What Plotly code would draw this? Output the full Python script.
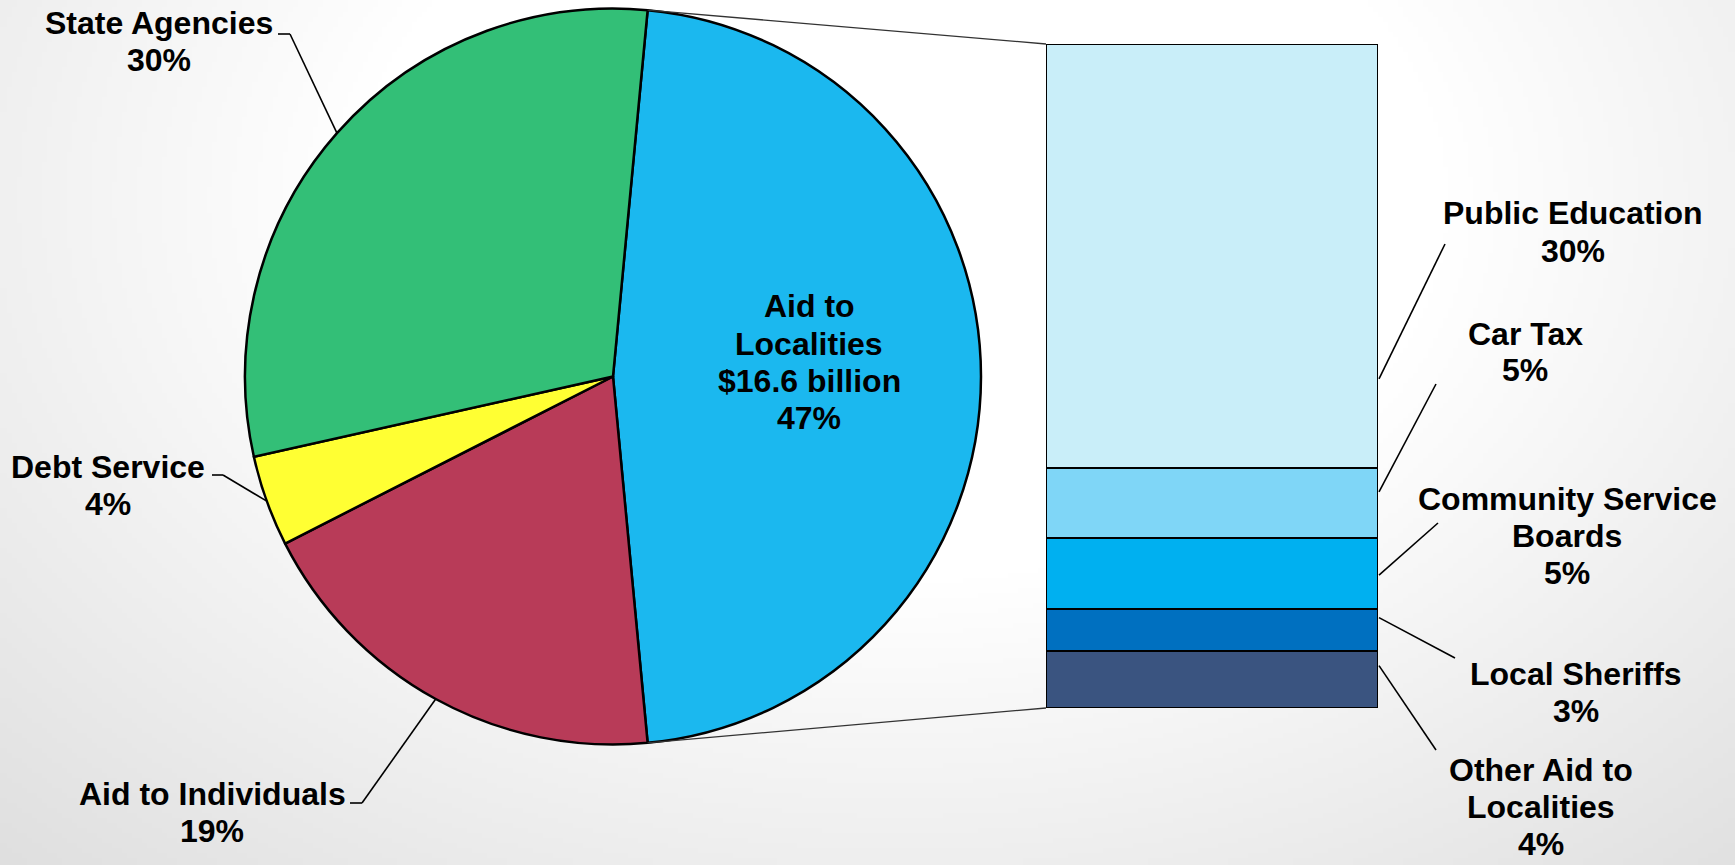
import base64
import math
import struct
import zlib

import numpy as np
import plotly.graph_objects as go

W, H = 1735, 865

# Top-level spending split (clockwise from the Aid to Localities slice)
pie_labels = ["Aid to Localities", "Aid to Individuals", "Debt Service", "State Agencies"]
pie_values = [47, 19, 4, 30]
pie_colors = ["#1BB8EF", "#B83B58", "#FFFF33", "#33BF77"]
localities_amount = "$16.6 billion"

# Breakdown of Aid to Localities, stacked bottom to top
loc_labels = ["Other Aid to<br>Localities", "Local Sheriffs", "Community Service<br>Boards",
              "Car Tax", "Public Education"]
loc_values = [4, 3, 5, 5, 30]
loc_colors = ["#3A5480", "#0070C0", "#00B0F0", "#7FD6F7", "#C9EEF9"]

FONT = "Liberation Sans, Arial, Helvetica, sans-serif"
FS = 32
LINE_GAP = 37

# ---- geometry (pixels) ----
pie_box = (245, 8, 981, 745)          # left, top, right, bottom
cx = (pie_box[0] + pie_box[2]) / 2
cy = (pie_box[1] + pie_box[3]) / 2
r = min(pie_box[2] - pie_box[0], pie_box[3] - pie_box[1]) / 2

bar_left, bar_right, bar_top, bar_bottom = 1046, 1378, 44, 708
loc_total = sum(loc_values)

pie_total = sum(pie_values)
rotation = 90 - 360 * pie_values[0] / pie_total / 2   # centre the first slice at 3 o'clock


def px(x, y):
    return x / W, 1 - y / H


def pie_point(theta):
    t = math.radians(theta)
    return cx + r * math.sin(t), cy - r * math.cos(t)


def bar_y(v):
    return bar_bottom - v / loc_total * (bar_bottom - bar_top)


# slice boundary angles (clockwise from 12 o'clock)
bounds = [rotation]
for v in pie_values:
    bounds.append(bounds[-1] + 360 * v / pie_total)
mids = [(bounds[i] + bounds[i + 1]) / 2 for i in range(len(pie_values))]

# ---- background: soft radial gradient ----
step = 5
gw, gh = W // step, H // step
xs = (np.arange(gw) + 0.5) * step
ys = (np.arange(gh) + 0.5) * step
X, Y = np.meshgrid(xs, ys)
d = np.sqrt(((X - 900) / 1000) ** 2 + ((Y - 200) / 700) ** 2)
bg = np.clip(255 - 42 * np.clip(d - 0.55, 0, None), 0, 255).astype(np.uint8)


def png_uri(arr):
    h, w = arr.shape
    raw = b"".join(b"\x00" + arr[i].tobytes() for i in range(h))

    def chunk(tag, data):
        c = struct.pack(">I", len(data)) + tag + data
        return c + struct.pack(">I", zlib.crc32(tag + data) & 0xFFFFFFFF)

    png = (b"\x89PNG\r\n\x1a\n"
           + chunk(b"IHDR", struct.pack(">IIBBBBB", w, h, 8, 0, 0, 0, 0))
           + chunk(b"IDAT", zlib.compress(raw, 9))
           + chunk(b"IEND", b""))
    return "data:image/png;base64," + base64.b64encode(png).decode()


fig = go.Figure()

# ---- pie ----
dx0, dy1 = px(pie_box[0], pie_box[1])
dx1, dy0 = px(pie_box[2], pie_box[3])
fig.add_trace(go.Pie(
    labels=pie_labels, values=pie_values, sort=False, direction="clockwise",
    rotation=rotation, textinfo="none", showlegend=False,
    marker=dict(colors=pie_colors, line=dict(color="black", width=2.5)),
    domain=dict(x=[dx0, dx1], y=[dy0, dy1]),
))

# ---- stacked bar ----
bx0, by1 = px(bar_left, bar_top)
bx1, by0 = px(bar_right, bar_bottom)
for lab, v, col in zip(loc_labels, loc_values, loc_colors):
    fig.add_trace(go.Bar(
        x=["Aid to Localities"], y=[v], width=1, name=lab.replace("<br>", " "),
        marker=dict(color=col, line=dict(color="black", width=2.5)),
        showlegend=False,
    ))

shapes = []
annotations = []


def line(p, q, width=1.6, color="black"):
    (x0, y0), (x1, y1) = px(*p), px(*q)
    shapes.append(dict(type="line", xref="paper", yref="paper", x0=x0, y0=y0, x1=x1, y1=y1,
                       line=dict(color=color, width=width)))


def label(text, x, y_center):
    rows = text.split("<br>")
    top = y_center - LINE_GAP * (len(rows) - 1) / 2
    for i, row in enumerate(rows):
        xp, yp = px(x, top + i * LINE_GAP)
        annotations.append(dict(text=f"<b>{row}</b>", x=xp, y=yp, xref="paper", yref="paper",
                                xanchor="center", yanchor="middle", showarrow=False,
                                font=dict(family=FONT, size=FS, color="black")))


# connectors from the Aid to Localities slice to the bar
line(pie_point(bounds[0]), (bar_left, bar_top), width=1.3, color="#333333")
line(pie_point(bounds[1]), (bar_left, bar_bottom), width=1.3, color="#333333")

# inside label of the big slice
label(f"Aid to<br>Localities<br>{localities_amount}<br>{pie_values[0]}%", 809, 362)

# outside pie labels: (text centre, elbow, text end)
pie_label_pos = {
    "Aid to Individuals": ((212, 812), (362, 803), (350, 803)),
    "Debt Service": ((108, 485), (223, 475), (212, 475)),
    "State Agencies": ((159, 42), (290, 34), (278, 34)),
}
for i, lab in enumerate(pie_labels[1:], start=1):
    (tx, ty), elbow, end = pie_label_pos[lab]
    edge = pie_point(mids[i])
    line(edge, elbow)
    line(elbow, end)
    label(f"{lab}<br>{pie_values[i]}%", tx, ty)

# bar labels: (text centre, leader end, anchor fraction within segment)
bar_label_pos = [
    ((1541, 807), (1436, 750), 0.75),
    ((1576, 692), (1455, 658), 0.80),
    ((1567, 536), (1438, 523), 0.48),
    ((1525, 352), (1436, 384), 0.66),
    ((1573, 232), (1445, 244), 0.21),
]
base = 0
for lab, v, ((tx, ty), end, frac) in zip(loc_labels, loc_values, bar_label_pos):
    anchor = (bar_right + 1, bar_y(base + frac * v))
    line(anchor, end)
    label(f"{lab}<br>{v}%", tx, ty)
    base += v

fig.update_layout(
    width=W, height=H, margin=dict(l=0, r=0, t=0, b=0),
    paper_bgcolor="white", plot_bgcolor="rgba(0,0,0,0)",
    barmode="stack", bargap=0,
    xaxis=dict(domain=[bx0, bx1], range=[-0.5, 0.5], visible=False, fixedrange=True),
    yaxis=dict(domain=[by0, by1], range=[0, loc_total], visible=False, fixedrange=True),
    shapes=shapes, annotations=annotations,
    images=[dict(source=png_uri(bg), xref="paper", yref="paper", x=0, y=1, sizex=1, sizey=1,
                 xanchor="left", yanchor="top", sizing="stretch", layer="below")],
)

fig.write_html("out.html", config={"displayModeBar": False})
